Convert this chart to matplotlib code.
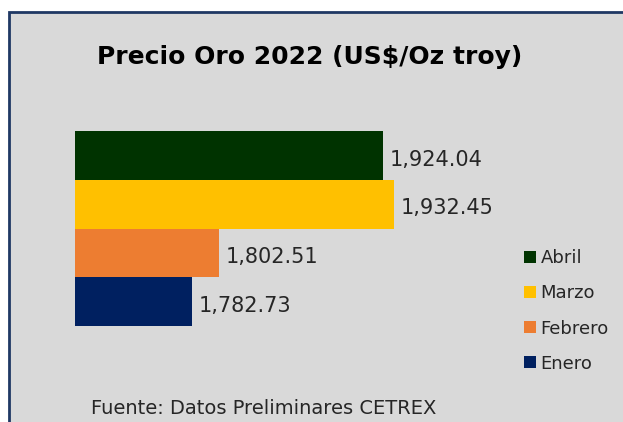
import matplotlib
matplotlib.use("Agg")
import matplotlib.pyplot as plt
from matplotlib.patches import Rectangle, Patch

# datos - precio del oro 2022
meses = ["Enero", "Febrero", "Marzo", "Abril"]
precios = [1782.73, 1802.51, 1932.45, 1924.04]
colores = ["#002060", "#ED7D31", "#FFC000", "#003300"]

W, H = 623, 422
fig = plt.figure(figsize=(W / 100, H / 100), dpi=100, facecolor="white")

# fondo gris con borde azul
fig.patches.append(Rectangle((9 / W, -0.1), 1.2, (H - 12) / H + 0.1,
                             transform=fig.transFigure, facecolor="#D9D9D9",
                             edgecolor="#1F3864", linewidth=2, zorder=-5))

ax = fig.add_axes([75 / W, (H - 326) / H, 425 / W, 195 / H])
ax.set_facecolor("none")
ax.barh(range(len(meses)), precios, height=1.0, color=colores)
ax.set_xlim(1696, 2011)
ax.set_ylim(-0.5, 3.5)
for s in ax.spines.values():
    s.set_visible(False)
ax.set_xticks([])
ax.set_yticks([])

for i, v in enumerate(precios):
    ax.annotate(f"{v:,.2f}", (v, i), xytext=(5, -3), textcoords="offset points",
                va="center", ha="left", fontsize=15, color="#262626")

fig.text(310 / W, 1 - 57 / H, "Precio Oro 2022 (US$/Oz troy)", ha="center", va="center",
         fontsize=18, fontweight="bold", color="black")
fig.text(264 / W, 1 - 408 / H, "Fuente: Datos Preliminares CETREX", ha="center", va="center",
         fontsize=14, color="#262626")

handles = [Patch(facecolor=colores[i], label=meses[i]) for i in range(len(meses) - 1, -1, -1)]
fig.legend(handles=handles, loc="upper left", bbox_to_anchor=(508 / W, 1 - 233 / H),
           frameon=False, fontsize=13, handlelength=0.65, handleheight=0.65,
           handletextpad=0.25, labelspacing=0.95, labelcolor="#262626")

fig.savefig("out.png", dpi=100)
